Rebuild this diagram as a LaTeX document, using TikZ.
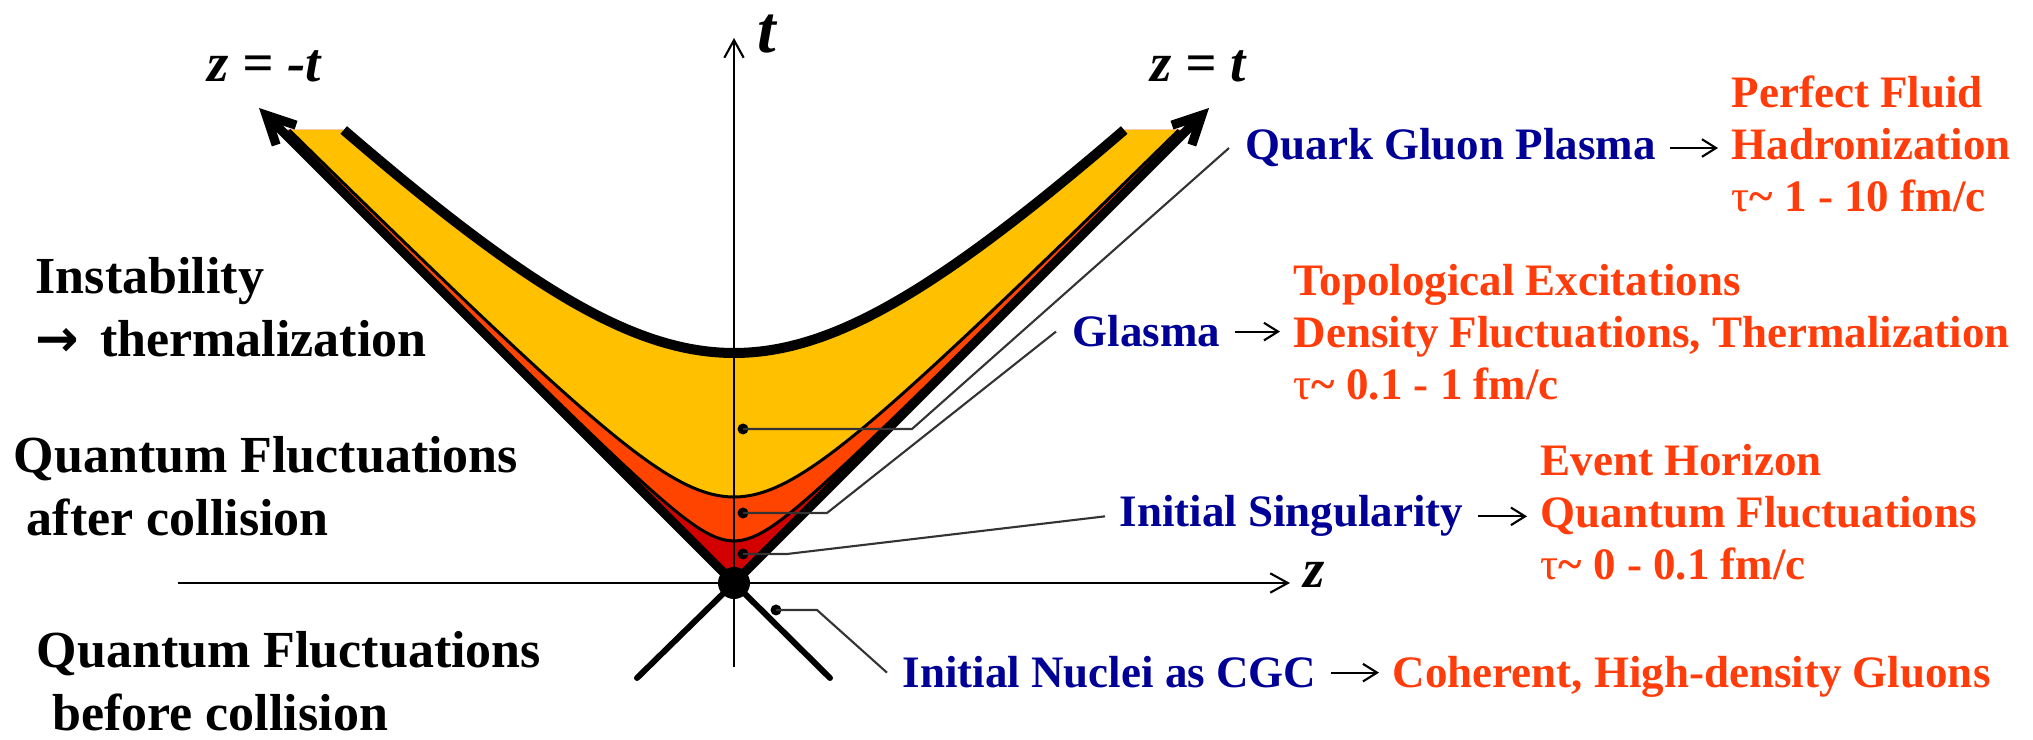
\documentclass[tikz,border=0pt]{standalone}
\usepackage{fontspec}
\setmainfont{Liberation Serif}
\newfontfamily\arrowfont{DejaVu Sans}
\usetikzlibrary{arrows.meta}

\definecolor{qgpyellow}{RGB}{255,192,0}
\definecolor{glasmaorange}{RGB}{255,68,0}
\definecolor{singred}{RGB}{210,0,0}
\definecolor{stageblue}{RGB}{0,0,150}
\definecolor{physred}{RGB}{255,60,10}

\begin{document}
\begin{tikzpicture}[x=1cm, y=1cm,
    stage/.style={text=stageblue, font=\fontsize{12.8}{14.8}\selectfont\bfseries, inner sep=0pt},
    phys/.style={text=physred, font=\fontsize{12.8}{14.8}\selectfont\bfseries, align=left, inner sep=0pt},
    remark/.style={font=\fontsize{14.8}{18.2}\selectfont\bfseries, align=left, inner sep=0pt},
    lab/.style={font=\fontsize{15.6}{18}\selectfont\bfseries\itshape, inner sep=0pt},
    dot/.style={circle, fill, inner sep=0pt, minimum size=0.11cm},
    leader/.style={black!80, line width=0.6pt},
    yields/.style={line width=0.6pt, -{Straight Barb[length=4pt, width=5pt]}, shorten <=1.4mm, shorten >=1.3mm},
    axis/.style={line width=0.6pt, -{Straight Barb[length=5pt, width=5.5pt]}},
    cone/.style={line width=2.6pt, -{Straight Barb[length=8pt, width=8pt]}}]

  \useasboundingbox (-7.34,-1.57) rectangle (12.99,5.83);

  % regions between the hyperbolas t^2 - z^2 = tau^2
  \fill[singred] (0,0) -- (-4.53,4.53) -- (4.53,4.53) -- cycle;
  \foreach \s/\col/\h in {0.42/glasmaorange/4.53, 0.86/qgpyellow/4.53, 2.30/white/4.6} {
    \pgfmathsetmacro\zmax{sqrt(4.53*4.53-\s*\s)}
    \fill[\col] plot[domain=-\zmax:\zmax, samples=151] (\x, {sqrt(\x*\x+\s*\s)})
      -- (\zmax,\h) -- (-\zmax,\h) -- cycle;
  }
  \foreach \s/\w in {0.42/0.85pt, 0.86/0.85pt, 2.30/2.85pt} {
    \pgfmathsetmacro\zmax{sqrt(4.53*4.53-\s*\s)}
    \draw[line width=\w] plot[domain=-\zmax:\zmax, samples=151] (\x, {sqrt(\x*\x+\s*\s)});
  }

  % axes
  \draw[axis] (-5.56,0) -- (5.56,0);
  \draw[axis] (0,-0.84) -- (0,5.45);

  % light cone
  \draw[cone] (0,0) -- (-4.75,4.75);
  \draw[cone] (0,0) -- (4.75,4.75);
  \draw[line width=1.7pt, line cap=round] (-0.97,-0.95) -- (0,0) -- (0.96,-0.95);
  \fill (0,0) circle[radius=0.16];

  % axis labels
  \node[lab, anchor=base west] (zminus) at (-5.27,5.01) {z = -t};
  \node[lab, anchor=base west] (zplus) at (4.16,5.01) {z = t};
  \node[lab, font=\fontsize{19}{22}\selectfont\bfseries\itshape, anchor=base west] (tlab) at (0.23,5.30) {t};
  \node[lab, anchor=base west] (zlab) at (5.69,-0.05) {z};

  % dots inside the regions
  \node[dot] (qgpdot) at (0.09,1.54) {};
  \node[dot] (glasmadot) at (0.09,0.70) {};
  \node[dot] (singdot) at (0.09,0.29) {};
  \node[dot] (nucldot) at (0.42,-0.27) {};

  % left remarks (base = last line)
  \node[remark, anchor=base west] (instab) at (-6.99,2.26) {Instability\\{\arrowfont →}\hspace{0.4em}thermalization};
  \node[remark, anchor=base west] (qfafter) at (-7.21,0.47) {Quantum Fluctuations\\\hspace{0.25em}after collision};
  \node[remark, anchor=base west] (qfbefore) at (-6.98,-1.48) {Quantum Fluctuations\\\hspace{0.3em}before collision};

  % stages
  \node[stage, anchor=base west] (qgp) at (5.11,4.23) {Quark Gluon Plasma};
  \node[stage, anchor=base west] (glasma) at (3.38,2.36) {Glasma};
  \node[stage, anchor=base west] (sing) at (3.85,0.56) {Initial Singularity};
  \node[stage, anchor=base west] (nucl) at (1.68,-1.05) {Initial Nuclei as CGC};

  % what goes on in each stage
  \node[phys, anchor=base west] (qgpfx) at (9.97,3.71) {Perfect Fluid\\Hadronization\\{\mdseries τ}\textasciitilde{} 1 - 10 fm/c};
  \node[phys, anchor=base west] (glasmafx) at (5.59,1.83) {Topological Excitations\\Density Fluctuations, Thermalization\\{\mdseries τ}\textasciitilde{} 0.1 - 1 fm/c};
  \node[phys, anchor=base west] (singfx) at (8.06,0.03) {Event Horizon\\Quantum Fluctuations\\{\mdseries τ}\textasciitilde{} 0 - 0.1 fm/c};
  \node[phys, anchor=base west] (nuclfx) at (6.58,-1.05) {Coherent, High-density Gluons};

  \draw[yields] (qgp.east) -- (qgp.east -| qgpfx.west);
  \draw[yields] (glasma.east) -- (glasma.east -| glasmafx.west);
  \draw[yields] (sing.east) -- (sing.east -| singfx.west);
  \draw[yields] (nucl.east) -- (nucl.east -| nuclfx.west);

  % leaders from the dots
  \draw[leader] (qgpdot.center) -- ++(1.69,0) -- ([xshift=-1.6mm]qgp.west);
  \draw[leader] (glasmadot.center) -- ++(0.84,0) -- ([xshift=-1.6mm]glasma.west);
  \draw[leader] (singdot.center) -- ++(0.44,0) -- ([xshift=-1.4mm]sing.west);
  \draw[leader] (nucldot.center) -- ++(0.41,0) -- ([xshift=-1.5mm]nucl.west);
\end{tikzpicture}
\end{document}
